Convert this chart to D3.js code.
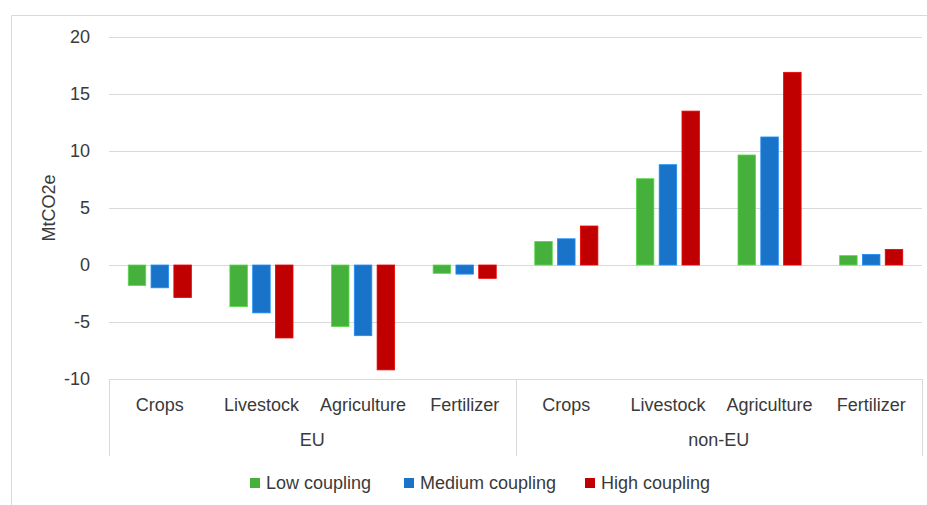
<!DOCTYPE html>
<html>
<head>
<meta charset="utf-8">
<script src="https://cdn.jsdelivr.net/npm/d3@7"></script>
<style>
  html, body { margin: 0; padding: 0; background: #fff; }
  svg text { font-family: "Liberation Sans", Arial, sans-serif; fill: #3a3a3a; }
</style>
</head>
<body>
<svg id="chart" width="927" height="505"></svg>
<script>
const regions = ["EU", "non-EU"];
const categories = ["Crops", "Livestock", "Agriculture", "Fertilizer"];
const seriesNames = ["Low coupling", "Medium coupling", "High coupling"];
const seriesColors = ["#46B03C", "#1873C9", "#C00000"];
const lowCoupling    = [-1.8, -3.65, -5.4, -0.73, 2.07, 7.57, 9.65, 0.82];
const mediumCoupling = [-2.0, -4.2, -6.2, -0.8, 2.3, 8.8, 11.23, 0.93];
const highCoupling   = [-2.85, -6.4, -9.2, -1.17, 3.42, 13.5, 16.9, 1.37];
const yTicks = [-10, -5, 0, 5, 10, 15, 20];
const yTitle = "MtCO2e";

(function () {
const seriesValues = [lowCoupling, mediumCoupling, highCoupling];
const groups = [];
regions.forEach(r => categories.forEach(c => groups.push({ region: r, cat: c, key: r + "|" + c })));

const svg = d3.select("#chart");
const pLeft = 109, pRight = 922, pTop = 37, pBottom = 379;

// outer chart border
svg.append("path")
  .attr("d", "M11.5,505 V15.5 H927")
  .attr("fill", "none").attr("stroke", "#d9d9d9").attr("stroke-width", 1);

const y = d3.scaleLinear().domain([-10, 20]).range([pBottom, pTop]);
const x0 = d3.scaleBand().domain(groups.map(g => g.key)).range([pLeft, pRight]).padding(0);
const x1 = d3.scaleBand().domain(seriesNames).range([0, x0.bandwidth()])
  .paddingInner(0.232).paddingOuter(0.844);

// gridlines
svg.append("g").selectAll("line").data(yTicks.filter(t => t !== -10)).join("line")
  .attr("x1", pLeft).attr("x2", pRight)
  .attr("y1", d => Math.round(y(d)) + 0.5).attr("y2", d => Math.round(y(d)) + 0.5)
  .attr("stroke", "#d9d9d9").attr("stroke-width", 1);

// y axis labels
const yAxis = d3.axisLeft(y).tickValues(yTicks).tickSize(0).tickPadding(0)
  .tickFormat(d => String(d));
const gy = svg.append("g").attr("transform", `translate(90,0)`).call(yAxis);
gy.select(".domain").remove();
gy.selectAll("text").attr("font-size", 18).attr("fill", "#3a3a3a")
  .style("font-family", '"Liberation Sans", Arial, sans-serif');

// y title
svg.append("text")
  .attr("transform", `translate(55,208) rotate(-90)`)
  .attr("text-anchor", "middle").attr("font-size", 18).text(yTitle);

// bars
const barG = svg.append("g");
groups.forEach((g, gi) => {
  seriesNames.forEach((s, si) => {
    const v = seriesValues[si][gi];
    barG.append("rect")
      .attr("x", x0(g.key) + x1(s))
      .attr("width", x1.bandwidth())
      .attr("y", y(Math.max(0, v)))
      .attr("height", Math.abs(y(v) - y(0)))
      .attr("fill", seriesColors[si])
      .attr("stroke", d3.color(seriesColors[si]).brighter(0.6))
      .attr("stroke-width", 0.8);
  });
});

// category axis (multi-level)
const axisG = svg.append("g");
axisG.append("line").attr("x1", pLeft).attr("x2", pRight + 1)
  .attr("y1", pBottom + 0.5).attr("y2", pBottom + 0.5)
  .attr("stroke", "#d9d9d9");
const regionEdges = [pLeft, x0(groups[categories.length].key), pRight];
regionEdges.forEach(xp => {
  axisG.append("line").attr("x1", Math.round(xp) + 0.5).attr("x2", Math.round(xp) + 0.5)
    .attr("y1", pBottom).attr("y2", 456).attr("stroke", "#d9d9d9");
});
axisG.selectAll("text.cat").data(groups).join("text")
  .attr("class", "cat")
  .attr("x", d => x0(d.key) + x0.bandwidth() / 2)
  .attr("y", 405).attr("dy", "0.35em")
  .attr("text-anchor", "middle").attr("font-size", 18)
  .text(d => d.cat);
regions.forEach((r) => {
  const a = x0(r + "|" + categories[0]);
  const b = x0(r + "|" + categories[categories.length - 1]) + x0.bandwidth();
  axisG.append("text").attr("x", (a + b) / 2).attr("y", 440).attr("dy", "0.35em")
    .attr("text-anchor", "middle").attr("font-size", 18).text(r);
});

// legend
const legendX = [250, 404, 585];
const lg = svg.append("g");
seriesNames.forEach((s, i) => {
  lg.append("rect").attr("x", legendX[i]).attr("y", 478).attr("width", 10).attr("height", 10)
    .attr("fill", seriesColors[i]);
  lg.append("text").attr("x", legendX[i] + 16).attr("y", 483).attr("dy", "0.35em")
    .attr("font-size", 18).text(s);
});
})();
</script>
</body>
</html>
